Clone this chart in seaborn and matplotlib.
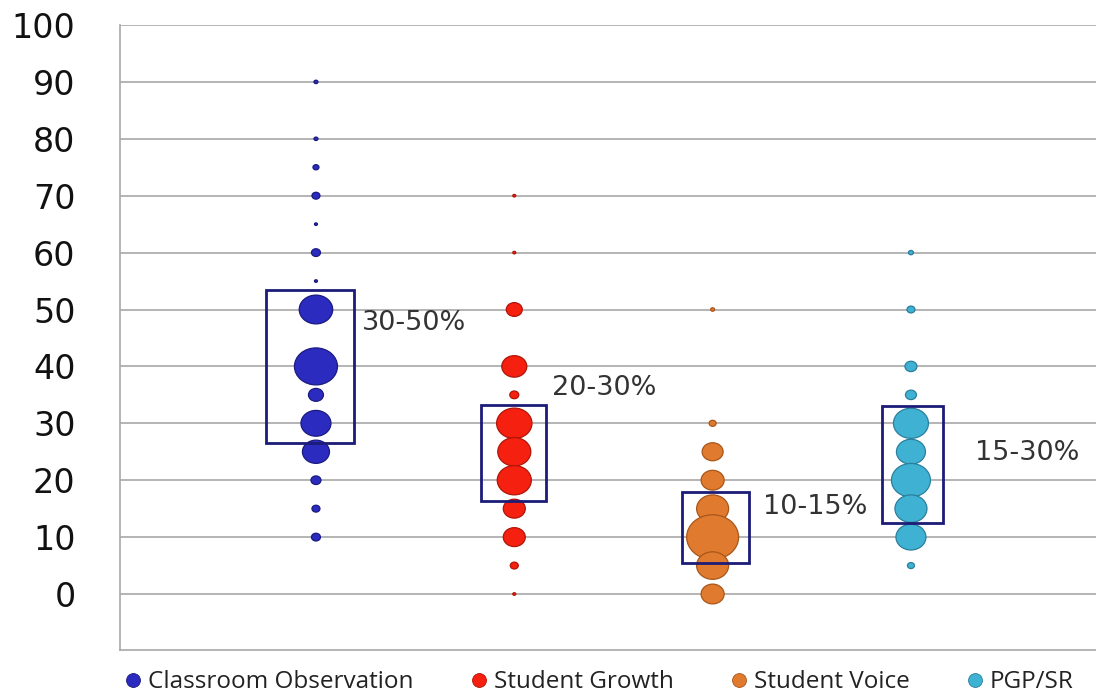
import numpy as np
import pandas as pd
import matplotlib
matplotlib.use("Agg")
import matplotlib.pyplot as plt
from matplotlib.path import Path
from matplotlib.patches import Rectangle
from matplotlib.lines import Line2D
import seaborn as sns

# ---------------- data ----------------
categories = ["Classroom Observation", "Student Growth", "Student Voice", "PGP/SR"]

co_y = [90, 80, 75, 70, 65, 60, 55, 50, 40, 35, 30, 25, 20, 15, 10]
co_size = [16, 16, 36, 64, 9, 81, 9, 1120, 1850, 225, 900, 730, 100, 64, 81]

sg_y = [70, 60, 50, 40, 35, 30, 25, 20, 15, 10, 5, 0]
sg_size = [9, 9, 256, 625, 81, 1250, 1090, 1160, 484, 484, 64, 9]

sv_y = [50, 30, 25, 20, 15, 10, 5, 0]
sv_size = [16, 49, 440, 530, 1024, 2700, 1024, 530]

pg_y = [60, 50, 40, 35, 30, 25, 20, 15, 10, 5]
pg_size = [25, 64, 144, 121, 1225, 841, 1520, 1024, 900, 49]

box_low = [26.5, 16.3, 5.4, 12.5]
box_high = [53.4, 33.2, 17.9, 33.0]
range_labels = ["30-50%", "20-30%", "10-15%", "15-30%"]

y_ticks = list(range(0, 101, 10))

# ---------------- styling ----------------
colors = ["#2b2bc0", "#f5200f", "#e07a2e", "#3fb2d4"]
edge_colors = ["#1a1a80", "#b01508", "#a8561a", "#2a7f9c"]
x_pos = {c: i + 1 for i, c in enumerate(categories)}

rows = []
for cat, ys, ss in zip(categories, [co_y, sg_y, sv_y, pg_y],
                       [co_size, sg_size, sv_size, pg_size]):
    for y, s in zip(ys, ss):
        rows.append({"category": cat, "x": x_pos[cat], "y": y, "size": s})
df = pd.DataFrame(rows)

sns.set_theme(style="white")
plt.rcParams["font.family"] = ["DejaVu Sans"]

fig = plt.figure(figsize=(10.96, 6.96), dpi=100)
ax = fig.add_axes([120 / 1096, 46 / 696, 1 - 120 / 1096, (650 - 25) / 696])

# ellipse marker (bubbles look slightly wider than tall)
circ = Path.unit_circle()
ell = Path(circ.vertices * np.array([1.0, 0.86]), circ.codes)

px2pt = 0.72  # 1 px at 100 dpi = 0.72 pt
vmin, vmax = df["size"].min(), df["size"].max()

sns.scatterplot(
    data=df, x="x", y="y", hue="category", size="size",
    hue_order=categories, palette=colors,
    sizes=(vmin * px2pt ** 2, vmax * px2pt ** 2), size_norm=(vmin, vmax),
    marker=ell, linewidth=0.9, legend=False, ax=ax, zorder=3,
)
# darker edges per category
for coll in ax.collections:
    fc = coll.get_facecolors()
    ecs = []
    for f in fc:
        idx = int(np.argmin([np.sum((np.array(matplotlib.colors.to_rgb(c)) - f[:3]) ** 2) for c in colors]))
        ecs.append(edge_colors[idx])
    coll.set_edgecolors(ecs)

# range boxes
box_half_width = [0.222, 0.164, 0.169, 0.154]
box_center = [0.970, 1.996, 3.015, 4.008]
for cx, hw, lo, hi in zip(box_center, box_half_width, box_low, box_high):
    ax.add_patch(Rectangle((cx - hw, lo), 2 * hw, hi - lo, fill=False,
                           edgecolor="#1c1c78", linewidth=2.0, zorder=5))

# range labels
label_x = [1.232, 2.190, 3.254, 4.323]
label_y = [47.6, 36.2, 15.3, 24.8]
for lx, ly, t in zip(label_x, label_y, range_labels):
    ax.text(lx, ly, t, fontsize=19.5, color="#333333", va="center", ha="left", zorder=6)

# axes
ax.set_xlim(0.012, 4.933)
ax.set_ylim(-9.84, 100)
ax.set_yticks(y_ticks)
ax.set_yticklabels([str(v) for v in y_ticks], fontsize=24, color="#111111")
ax.set_xticks([])
ax.tick_params(axis="y", length=0, pad=32)
ax.set_xlabel("")
ax.set_ylabel("")
ax.grid(axis="y", color="#a8a8a8", linewidth=1.2, zorder=0)
ax.set_axisbelow(True)
for side in ["top", "right"]:
    ax.spines[side].set_visible(False)
for side in ["left", "bottom"]:
    ax.spines[side].set_color("#a8a8a8")
    ax.spines[side].set_linewidth(1.2)

# legend
handles = [Line2D([0], [0], marker="o", linestyle="", markersize=10,
                  markerfacecolor=c, markeredgecolor=e, markeredgewidth=0.6)
           for c, e in zip(colors, edge_colors)]
fig.legend(handles, categories, loc="lower center", bbox_to_anchor=(0.545, -0.029),
           ncol=4, frameon=False, handletextpad=0.1, columnspacing=2.2,
           handlelength=1.0, prop={"family": "Open Sans", "size": 17.5})
for t in fig.legends[0].get_texts():
    t.set_color("#222222")

fig.savefig("out.png", dpi=100)
